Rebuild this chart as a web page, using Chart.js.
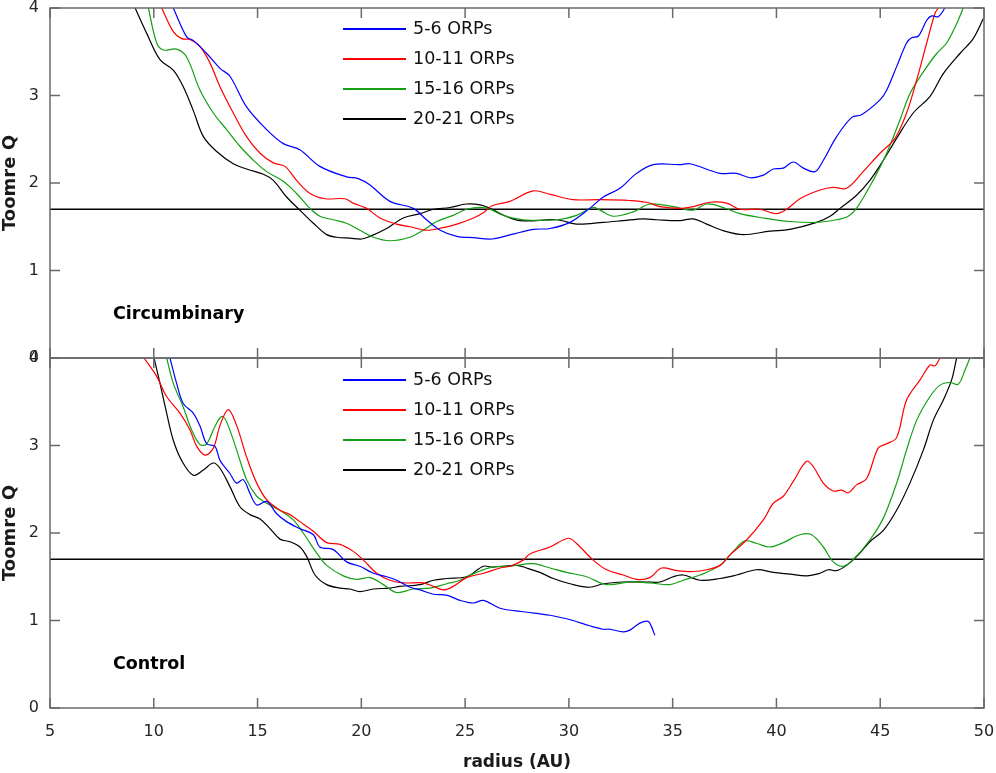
<!DOCTYPE html>
<html lang="en">
<head>
    <meta charset="UTF-8">
    <title>Toomre Q vs radius</title>
    <script src="https://cdn.jsdelivr.net/npm/chart.js"></script>
    <style>
        body {
            margin: 0;
            background: #fff;
            font-family: 'DejaVu Sans', sans-serif;
        }
        .wrap {
            position: relative;
            width: 996px;
            height: 773px;
            overflow: hidden;
        }
        canvas {
            position: absolute;
            left: 0;
        }
        #topChart { top: 0; }
        #bottomChart { top: 350px; }
        .legend {
            position: absolute;
            left: 343px;
            font-size: 17.5px;
            color: #111;
        }
        .legend div {
            position: relative;
            height: 30px;
            line-height: 30px;
            padding-left: 70px;
            white-space: nowrap;
        }
        .legend span {
            position: absolute;
            left: 0;
            top: 15px;
            width: 63px;
            height: 1.5px;
        }
        .panel-label {
            position: absolute;
            left: 113px;
            font-weight: bold;
            font-size: 17.5px;
            color: #000;
        }
    </style>
</head>
<body>
<div class="wrap">
    <canvas id="topChart" width="996" height="380"></canvas>
    <canvas id="bottomChart" width="996" height="423"></canvas>
    <div class="legend" id="legendTop" style="top: 13px;"></div>
    <div class="legend" id="legendBottom" style="top: 364px;"></div>
    <div class="panel-label" style="top: 303px;">Circumbinary</div>
    <div class="panel-label" style="top: 653px;">Control</div>
</div>

<script>
    // series names and colours
    const seriesLabels = ['5-6 ORPs', '10-11 ORPs', '15-16 ORPs', '20-21 ORPs'];
    const seriesColors = ['#0000ff', '#ff0000', '#14a014', '#000000'];

    const xTicks = [5, 10, 15, 20, 25, 30, 35, 40, 45, 50];
    const yTicks = [0, 1, 2, 3, 4];
    const qThreshold = 1.7;

    // [radius (AU), Toomre Q] - circumbinary panel
    const topBlue = [[10.94,4],[11.58,3.67],[11.9,3.63],[12.55,3.48],[13.19,3.31],[13.67,3.22],[14.47,2.87],[15.44,2.61],[16.24,2.45],[17.04,2.38],[18.0,2.19],[19.29,2.07],[19.85,2.05],[20.4,1.98],[21.38,1.79],[22.5,1.71],[23.14,1.58],[23.8,1.46],[24.6,1.39],[25.4,1.375],[26.3,1.36],[27.2,1.41],[28.29,1.47],[29.09,1.48],[30.05,1.55],[31.0,1.71],[31.66,1.84],[32.46,1.94],[33.26,2.11],[34.07,2.21],[35.35,2.21],[35.84,2.22],[37.28,2.11],[38.08,2.11],[38.73,2.06],[39.37,2.09],[39.85,2.16],[40.33,2.17],[40.81,2.24],[41.3,2.17],[41.86,2.13],[42.26,2.26],[42.9,2.53],[43.63,2.75],[44.1,2.78],[44.99,2.95],[45.31,3.06],[45.79,3.33],[46.27,3.6],[46.51,3.66],[46.84,3.68],[47.24,3.86],[47.48,3.91],[47.8,3.9],[48.12,4.0]];
    const topRed = [[10.38,4],[10.94,3.73],[11.34,3.65],[11.74,3.64],[12.23,3.56],[12.71,3.37],[13.19,3.1],[13.83,2.8],[14.47,2.53],[15.12,2.34],[15.76,2.23],[16.32,2.19],[16.88,2.03],[17.53,1.88],[18.25,1.82],[19.21,1.82],[19.61,1.77],[20.26,1.71],[20.9,1.6],[21.7,1.53],[22.34,1.5],[23.15,1.46],[23.95,1.49],[24.6,1.53],[25.4,1.6],[25.88,1.66],[26.3,1.74],[27.16,1.79],[28.28,1.91],[29.1,1.87],[30.2,1.81],[31.5,1.81],[32.94,1.8],[33.74,1.78],[34.39,1.73],[35.35,1.71],[35.99,1.73],[36.8,1.78],[37.6,1.77],[38.24,1.7],[39.2,1.7],[40.0,1.65],[40.49,1.7],[41.13,1.82],[42.1,1.92],[42.74,1.95],[43.38,1.94],[44.18,2.13],[44.99,2.34],[45.71,2.51],[46.27,2.8],[46.76,3.18],[47.24,3.6],[47.64,3.94],[47.8,4.0]];
    const topGreen = [[9.74,4],[10.14,3.6],[10.46,3.52],[11.1,3.53],[11.58,3.44],[12.23,3.06],[12.87,2.8],[13.51,2.61],[14.15,2.42],[14.8,2.26],[15.44,2.13],[16.24,2.02],[16.88,1.88],[17.53,1.71],[18.0,1.62],[18.65,1.58],[19.29,1.54],[19.93,1.46],[20.58,1.38],[21.38,1.34],[22.34,1.38],[22.98,1.46],[23.63,1.56],[24.43,1.63],[25.07,1.7],[25.88,1.72],[26.3,1.69],[26.84,1.63],[27.8,1.58],[29.41,1.58],[30.37,1.63],[31.17,1.72],[31.5,1.69],[32.14,1.62],[33.1,1.67],[33.9,1.76],[35.02,1.73],[35.99,1.69],[36.64,1.76],[37.44,1.72],[38.24,1.65],[39.37,1.6],[40.65,1.56],[41.94,1.55],[42.9,1.58],[43.46,1.62],[43.86,1.71],[44.66,2.03],[45.31,2.34],[45.95,2.72],[46.43,3.02],[47.08,3.27],[47.72,3.48],[48.2,3.6],[48.68,3.82],[49.0,4.0]];
    const topBlack = [[9.1,4],[9.66,3.71],[10.3,3.41],[10.94,3.29],[11.42,3.1],[11.9,2.83],[12.39,2.53],[13.03,2.36],[13.83,2.22],[14.47,2.16],[15.28,2.1],[15.76,2.03],[16.4,1.84],[17.04,1.69],[17.69,1.54],[18.33,1.41],[18.81,1.38],[19.45,1.37],[20.02,1.36],[20.42,1.39],[21.22,1.48],[22.02,1.6],[22.83,1.65],[23.47,1.7],[24.27,1.72],[25.07,1.76],[25.72,1.75],[26.3,1.7],[26.68,1.65],[27.64,1.57],[29.41,1.58],[30.37,1.53],[31.66,1.55],[32.62,1.57],[33.58,1.59],[34.23,1.58],[35.35,1.57],[35.99,1.59],[36.64,1.53],[37.44,1.455],[38.4,1.41],[39.69,1.45],[40.65,1.47],[41.94,1.55],[42.58,1.62],[43.06,1.71],[43.86,1.86],[44.5,2.03],[45.15,2.26],[45.79,2.51],[46.59,2.8],[47.4,2.99],[48.04,3.25],[48.84,3.48],[49.48,3.65],[49.97,3.88]];

    // control panel
    const botBlue = [[10.78,4],[11.1,3.71],[11.42,3.48],[11.9,3.37],[12.23,3.22],[12.55,3.02],[12.95,2.99],[13.19,2.83],[13.67,2.68],[13.99,2.57],[14.31,2.61],[14.64,2.45],[14.96,2.32],[15.44,2.36],[15.92,2.22],[16.4,2.13],[17.04,2.05],[17.69,1.98],[18.0,1.84],[18.65,1.81],[19.29,1.67],[19.93,1.62],[20.58,1.54],[21.22,1.5],[21.7,1.46],[22.34,1.38],[22.83,1.35],[23.47,1.3],[24.11,1.29],[24.75,1.23],[25.4,1.2],[25.88,1.23],[26.68,1.14],[27.8,1.1],[29.09,1.06],[30.2,1.0],[31.0,0.94],[31.66,0.9],[31.98,0.9],[32.62,0.87],[32.94,0.89],[33.42,0.97],[33.82,0.99],[33.98,0.93],[34.14,0.83]];
    const botRed = [[9.53,4],[10.14,3.79],[10.62,3.56],[11.26,3.37],[11.74,3.18],[12.07,2.99],[12.47,2.89],[12.87,2.97],[13.19,3.23],[13.59,3.41],[13.99,3.23],[14.47,2.87],[14.96,2.57],[15.44,2.38],[16.08,2.26],[16.56,2.21],[17.04,2.13],[17.69,2.02],[18.33,1.89],[18.97,1.87],[19.61,1.79],[20.1,1.69],[20.74,1.54],[21.38,1.46],[22.02,1.43],[22.98,1.43],[23.47,1.39],[23.95,1.35],[24.43,1.39],[25.07,1.49],[25.88,1.54],[26.68,1.6],[27.16,1.62],[27.8,1.69],[28.12,1.76],[29.09,1.84],[29.97,1.94],[30.37,1.88],[31.17,1.69],[31.82,1.58],[32.62,1.52],[33.26,1.47],[33.9,1.49],[34.47,1.6],[35.19,1.57],[35.99,1.56],[36.64,1.58],[37.28,1.63],[37.76,1.75],[38.56,1.92],[39.37,2.15],[39.85,2.34],[40.33,2.42],[40.81,2.59],[41.45,2.82],[41.77,2.76],[42.26,2.57],[42.74,2.48],[43.14,2.49],[43.46,2.46],[43.86,2.55],[44.34,2.62],[44.9,2.97],[45.31,3.02],[45.79,3.09],[46.27,3.52],[46.92,3.75],[47.4,3.92],[47.64,3.91],[47.88,4.0]];
    const botGreen = [[10.62,4],[10.94,3.71],[11.42,3.44],[11.82,3.18],[12.23,3.01],[12.55,3.02],[12.95,3.22],[13.27,3.33],[13.51,3.27],[13.99,2.95],[14.47,2.61],[14.96,2.42],[15.44,2.34],[16.08,2.26],[16.72,2.15],[17.2,2.0],[17.85,1.77],[18.33,1.63],[19.13,1.51],[19.77,1.47],[20.42,1.49],[21.06,1.41],[21.7,1.32],[22.5,1.36],[23.3,1.37],[24.11,1.42],[24.75,1.46],[25.55,1.55],[26.3,1.61],[27.16,1.62],[28.28,1.65],[29.09,1.6],[29.89,1.55],[30.85,1.5],[31.82,1.41],[32.94,1.44],[33.9,1.43],[34.87,1.41],[35.51,1.46],[36.32,1.52],[37.28,1.63],[37.92,1.79],[38.48,1.91],[39.05,1.88],[39.69,1.84],[40.33,1.89],[41.13,1.98],[41.69,1.98],[42.26,1.84],[42.74,1.67],[43.22,1.62],[43.71,1.7],[44.5,1.92],[45.15,2.17],[45.79,2.57],[46.27,2.95],[46.76,3.29],[47.4,3.56],[47.88,3.69],[48.36,3.72],[48.76,3.7],[49.08,3.86],[49.32,4.0]];
    const botBlack = [[10.01,4],[10.3,3.71],[10.62,3.37],[10.94,3.06],[11.34,2.83],[11.9,2.66],[12.39,2.72],[12.87,2.8],[13.19,2.74],[13.67,2.53],[14.15,2.3],[14.64,2.21],[15.12,2.16],[15.6,2.05],[16.08,1.93],[16.56,1.9],[17.04,1.84],[17.37,1.73],[17.77,1.52],[18.33,1.41],[18.97,1.37],[19.45,1.36],[19.93,1.33],[20.58,1.36],[21.38,1.37],[21.86,1.39],[22.83,1.41],[23.47,1.46],[24.11,1.48],[25.07,1.5],[25.88,1.62],[26.3,1.61],[27.48,1.63],[27.96,1.6],[28.6,1.55],[29.25,1.48],[30.05,1.42],[31.0,1.38],[31.66,1.42],[32.62,1.44],[33.74,1.44],[34.39,1.44],[35.02,1.5],[35.51,1.52],[36.32,1.46],[37.28,1.48],[38.08,1.52],[39.05,1.58],[39.85,1.55],[40.65,1.53],[41.45,1.51],[42.1,1.54],[42.5,1.58],[42.9,1.57],[43.38,1.63],[43.86,1.73],[44.5,1.9],[45.15,2.03],[45.79,2.26],[46.43,2.57],[47.08,2.95],[47.56,3.29],[48.04,3.52],[48.44,3.75],[48.68,4.0]];

    const FONT = "'DejaVu Sans', sans-serif";
    const AXIS_COLOR = '#6a6a6a';

    // frame round the plot area and inward tick marks on all four sides
    const framePlugin = {
        id: 'frame',
        afterDatasetsDraw(chart) {
            const ctx = chart.ctx;
            const a = chart.chartArea;
            const xs = chart.scales.x, ys = chart.scales.y;
            const len = 10;
            ctx.save();
            ctx.strokeStyle = AXIS_COLOR;
            ctx.lineWidth = 1.5;
            ctx.strokeRect(a.left, a.top, a.right - a.left, a.bottom - a.top);
            ctx.beginPath();
            xTicks.forEach(v => {
                const px = xs.getPixelForValue(v);
                ctx.moveTo(px, a.bottom); ctx.lineTo(px, a.bottom - len);
                ctx.moveTo(px, a.top); ctx.lineTo(px, a.top + len);
            });
            yTicks.forEach(v => {
                const py = ys.getPixelForValue(v);
                ctx.moveTo(a.left, py); ctx.lineTo(a.left + len, py);
                ctx.moveTo(a.right, py); ctx.lineTo(a.right - len, py);
            });
            ctx.stroke();
            ctx.restore();
        }
    };

    function makeDatasets(series) {
        const sets = series.map((pts, i) => ({
            label: seriesLabels[i],
            data: pts.map(p => ({ x: p[0], y: p[1] })),
            borderColor: seriesColors[i],
            borderWidth: 1.2,
            pointRadius: 0,
            tension: 0.35,
            fill: false
        }));
        // Q = 1.7 reference line
        sets.push({
            label: 'threshold',
            data: [{ x: xTicks[0], y: qThreshold }, { x: xTicks[xTicks.length - 1], y: qThreshold }],
            borderColor: '#000',
            borderWidth: 1.3,
            pointRadius: 0
        });
        return sets;
    }

    // keep the plot area fixed: no extra room reserved for edge labels
    function noEdgePadding(s) {
        s.paddingTop = 0; s.paddingBottom = 0;
        s.paddingLeft = 0; s.paddingRight = 0;
    }

    function makeChart(id, series, showX) {
        return new Chart(document.getElementById(id), {
            type: 'line',
            data: { datasets: makeDatasets(series) },
            plugins: [framePlugin],
            options: {
                responsive: false,
                animation: false,
                devicePixelRatio: 1,
                layout: { padding: { top: 8, right: 12, left: 0, bottom: showX ? 0 : 22 } },
                plugins: { legend: { display: false }, tooltip: { enabled: false } },
                scales: {
                    x: {
                        type: 'linear',
                        min: 5, max: 50,
                        display: showX,
                        afterBuildTicks: s => { s.ticks = xTicks.map(v => ({ value: v })); },
                        afterFit: s => { s.height = showX ? 65 : 0; noEdgePadding(s); },
                        grid: { display: false, drawTicks: false },
                        border: { display: false },
                        ticks: { color: '#262626', font: { family: FONT, size: 16, lineHeight: 1 }, padding: 16, maxRotation: 0 },
                        title: { display: true, text: 'radius (AU)', color: '#1a1a1a', font: { family: FONT, size: 17, weight: 'bold' }, padding: { top: 7, bottom: 0 } }
                    },
                    y: {
                        min: 0, max: 4,
                        afterBuildTicks: s => { s.ticks = yTicks.map(v => ({ value: v })); },
                        afterFit: s => { s.width = 50; noEdgePadding(s); },
                        grid: { display: false, drawTicks: false },
                        border: { display: false },
                        ticks: { color: '#262626', font: { family: FONT, size: 16, lineHeight: 1 }, padding: 11 },
                        title: { display: true, text: 'Toomre Q', color: '#1a1a1a', font: { family: FONT, size: 18, weight: 'bold' }, padding: { top: 0, bottom: 0 } }
                    }
                }
            }
        });
    }

    makeChart('topChart', [topBlue, topRed, topGreen, topBlack], false);
    makeChart('bottomChart', [botBlue, botRed, botGreen, botBlack], true);

    // legends (same in both panels)
    ['legendTop', 'legendBottom'].forEach(id => {
        const box = document.getElementById(id);
        seriesLabels.forEach((lab, i) => {
            const row = document.createElement('div');
            const line = document.createElement('span');
            line.style.background = seriesColors[i];
            row.appendChild(line);
            row.appendChild(document.createTextNode(lab));
            box.appendChild(row);
        });
    });
</script>
</body>
</html>
